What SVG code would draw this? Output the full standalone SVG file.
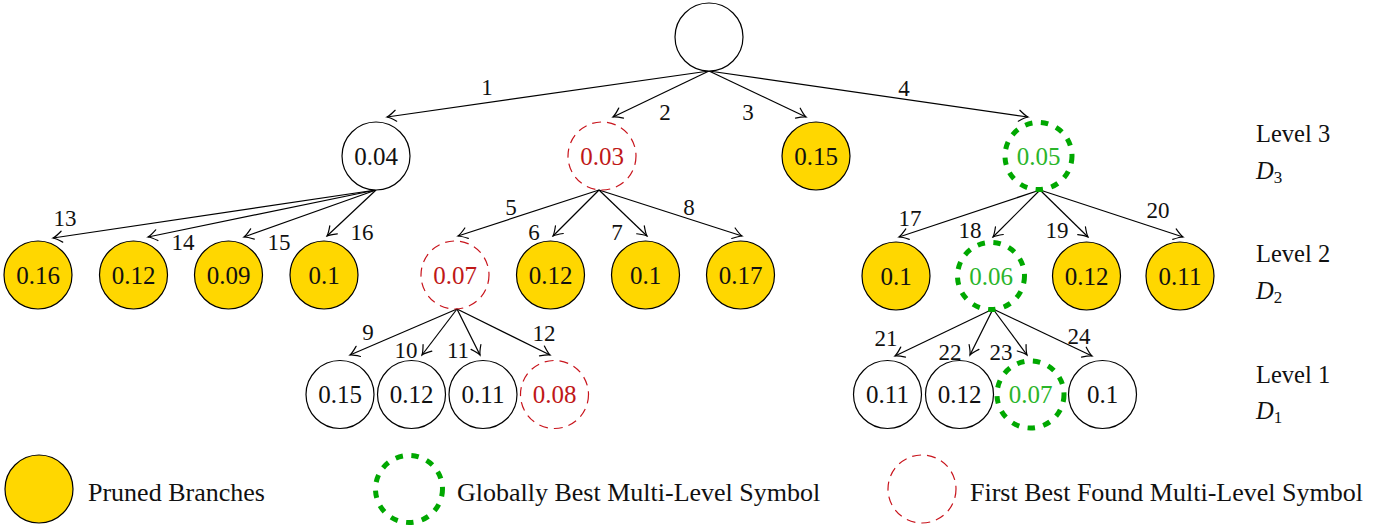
<svg xmlns="http://www.w3.org/2000/svg" width="1398" height="525" viewBox="0 0 1398 525">
  <defs>
    <marker id="arr" viewBox="-11 -7 13 14" markerWidth="13" markerHeight="14" refX="0" refY="0" orient="auto" markerUnits="userSpaceOnUse">
      <path d="M-9,-5.5 Q-3,-1 0,0 Q-3,1 -9,5.5" fill="none" stroke="#000" stroke-width="1.2" stroke-linecap="round"/>
    </marker>
  </defs>
  <style>
    text { font-family: "Liberation Serif", "Times New Roman", serif; fill: #111; }
    .plain { fill: #fff; stroke: #000; stroke-width: 1.2; }
    .pruned { fill: #ffd700; stroke: #000; stroke-width: 1.2; }
    .first { fill: none; stroke: #c8141c; stroke-width: 1.2; stroke-dasharray: 9 6; }
    .best { fill: none; stroke: #00a800; stroke-width: 5; stroke-dasharray: 7.5 8.5; }
    .val { font-size: 25px; text-anchor: middle; }
    .val.red { fill: #c01818; }
    .val.green { fill: #2ab52a; }
    .edge { stroke: #000; stroke-width: 1.2; fill: none; marker-end: url(#arr); }
    .elab { font-size: 23px; text-anchor: middle; }
    .lvl { font-size: 24.5px; }
    .leg { font-size: 26px; }
  </style>

  <!-- connectors -->
  <g id="connectors">
    <line class="edge" x1="709" y1="71" x2="387" y2="117"/>
    <line class="edge" x1="709" y1="71" x2="613" y2="117"/>
    <line class="edge" x1="709" y1="71" x2="806" y2="117"/>
    <line class="edge" x1="709" y1="71" x2="1028" y2="117"/>

    <line class="edge" x1="376" y1="190" x2="53" y2="238"/>
    <line class="edge" x1="376" y1="190" x2="148" y2="237"/>
    <line class="edge" x1="376" y1="190" x2="244" y2="237"/>
    <line class="edge" x1="376" y1="190" x2="327" y2="236"/>

    <line class="edge" x1="599" y1="190" x2="458" y2="236"/>
    <line class="edge" x1="599" y1="190" x2="553" y2="236"/>
    <line class="edge" x1="599" y1="190" x2="647" y2="236"/>
    <line class="edge" x1="599" y1="190" x2="742" y2="236"/>

    <line class="edge" x1="1040" y1="190" x2="899" y2="237"/>
    <line class="edge" x1="1040" y1="190" x2="993" y2="237"/>
    <line class="edge" x1="1040" y1="190" x2="1088" y2="237"/>
    <line class="edge" x1="1040" y1="190" x2="1183" y2="237"/>

    <line class="edge" x1="457" y1="309" x2="350" y2="355"/>
    <line class="edge" x1="457" y1="309" x2="422" y2="355"/>
    <line class="edge" x1="457" y1="309" x2="480" y2="355"/>
    <line class="edge" x1="457" y1="309" x2="550" y2="355"/>

    <line class="edge" x1="993" y1="309" x2="895" y2="356"/>
    <line class="edge" x1="993" y1="309" x2="970" y2="355"/>
    <line class="edge" x1="993" y1="309" x2="1027" y2="355"/>
    <line class="edge" x1="993" y1="309" x2="1092" y2="356"/>

    <!-- edge numbers -->
    <text class="elab" x="487" y="95">1</text>
    <text class="elab" x="665" y="120">2</text>
    <text class="elab" x="748" y="120">3</text>
    <text class="elab" x="904" y="96">4</text>
    <text class="elab" x="511" y="215">5</text>
    <text class="elab" x="534" y="240">6</text>
    <text class="elab" x="617" y="240">7</text>
    <text class="elab" x="689" y="215">8</text>
    <text class="elab" x="368" y="340">9</text>
    <text class="elab" x="406" y="358">10</text>
    <text class="elab" x="458" y="358">11</text>
    <text class="elab" x="544" y="341">12</text>
    <text class="elab" x="65" y="226">13</text>
    <text class="elab" x="183" y="250">14</text>
    <text class="elab" x="279" y="250">15</text>
    <text class="elab" x="362" y="240">16</text>
    <text class="elab" x="910" y="226">17</text>
    <text class="elab" x="970" y="238">18</text>
    <text class="elab" x="1057" y="238">19</text>
    <text class="elab" x="1158" y="218">20</text>
    <text class="elab" x="886" y="346">21</text>
    <text class="elab" x="950" y="360">22</text>
    <text class="elab" x="1001" y="360">23</text>
    <text class="elab" x="1079" y="344">24</text>
  </g>

  <!-- root -->
  <g id="root"><circle class="plain" cx="709" cy="37" r="34"/></g>

  <!-- level 3 -->
  <g id="n1"><circle class="plain" cx="376" cy="156" r="34"/><text class="val" x="376" y="164.5">0.04</text></g>
  <g id="n2"><circle class="first" cx="602" cy="156" r="34"/><text class="val red" x="602" y="164.5">0.03</text></g>
  <g id="n3"><circle class="pruned" cx="816" cy="156" r="34"/><text class="val" x="816" y="164.5">0.15</text></g>
  <g id="n4"><circle class="best" cx="1038.5" cy="156" r="33.5"/><text class="val green" x="1038.5" y="164.5">0.05</text></g>

  <!-- level 2 -->
  <g id="n13"><circle class="pruned" cx="38" cy="275" r="34"/><text class="val" x="38" y="283.5">0.16</text></g>
  <g id="n14"><circle class="pruned" cx="133.5" cy="275" r="34"/><text class="val" x="133.5" y="283.5">0.12</text></g>
  <g id="n15"><circle class="pruned" cx="228.5" cy="275" r="34"/><text class="val" x="228.5" y="283.5">0.09</text></g>
  <g id="n16"><circle class="pruned" cx="324" cy="275" r="34"/><text class="val" x="324" y="283.5">0.1</text></g>
  <g id="n5"><circle class="first" cx="455" cy="275" r="34"/><text class="val red" x="455" y="283.5">0.07</text></g>
  <g id="n6"><circle class="pruned" cx="550.5" cy="275" r="34"/><text class="val" x="550.5" y="283.5">0.12</text></g>
  <g id="n7"><circle class="pruned" cx="645.5" cy="275" r="34"/><text class="val" x="645.5" y="283.5">0.1</text></g>
  <g id="n8"><circle class="pruned" cx="740.5" cy="275" r="34"/><text class="val" x="740.5" y="283.5">0.17</text></g>
  <g id="n17"><circle class="pruned" cx="896" cy="276" r="34"/><text class="val" x="896" y="284.5">0.1</text></g>
  <g id="n18"><circle class="best" cx="991" cy="276" r="33.5"/><text class="val green" x="991" y="284.5">0.06</text></g>
  <g id="n19"><circle class="pruned" cx="1086.5" cy="276" r="34"/><text class="val" x="1086.5" y="284.5">0.12</text></g>
  <g id="n20"><circle class="pruned" cx="1180" cy="276" r="34"/><text class="val" x="1180" y="284.5">0.11</text></g>

  <!-- level 1 -->
  <g id="n9"><circle class="plain" cx="340" cy="394.5" r="34"/><text class="val" x="340" y="403">0.15</text></g>
  <g id="n10"><circle class="plain" cx="411.5" cy="394.5" r="34"/><text class="val" x="411.5" y="403">0.12</text></g>
  <g id="n11"><circle class="plain" cx="483" cy="394.5" r="34"/><text class="val" x="483" y="403">0.11</text></g>
  <g id="n12"><circle class="first" cx="554.5" cy="394.5" r="34"/><text class="val red" x="554.5" y="403">0.08</text></g>
  <g id="n21"><circle class="plain" cx="887.5" cy="394.5" r="34"/><text class="val" x="887.5" y="403">0.11</text></g>
  <g id="n22"><circle class="plain" cx="959.5" cy="394.5" r="34"/><text class="val" x="959.5" y="403">0.12</text></g>
  <g id="n23"><circle class="best" cx="1030.5" cy="394.5" r="33.5"/><text class="val green" x="1030.5" y="403">0.07</text></g>
  <g id="n24"><circle class="plain" cx="1102.5" cy="394.5" r="34"/><text class="val" x="1102.5" y="403">0.1</text></g>

  <!-- level captions -->
  <g id="levels">
    <text class="lvl" x="1256" y="142">Level 3</text>
    <text class="lvl" x="1256" y="179"><tspan font-style="italic">D</tspan><tspan font-size="17" dy="4">3</tspan></text>
    <text class="lvl" x="1256" y="262">Level 2</text>
    <text class="lvl" x="1256" y="299"><tspan font-style="italic">D</tspan><tspan font-size="17" dy="4">2</tspan></text>
    <text class="lvl" x="1256" y="383">Level 1</text>
    <text class="lvl" x="1256" y="419"><tspan font-style="italic">D</tspan><tspan font-size="17" dy="4">1</tspan></text>
  </g>

  <!-- legend -->
  <g id="legend-pruned"><circle class="pruned" cx="39" cy="489" r="34"/><text class="leg" x="88" y="501">Pruned Branches</text></g>
  <g id="legend-best"><circle class="best" cx="409" cy="489" r="33.5"/><text class="leg" x="457" y="501">Globally Best Multi-Level Symbol</text></g>
  <g id="legend-first"><circle class="first" cx="922" cy="489" r="34"/><text class="leg" x="970" y="501">First Best Found Multi-Level Symbol</text></g>
</svg>
